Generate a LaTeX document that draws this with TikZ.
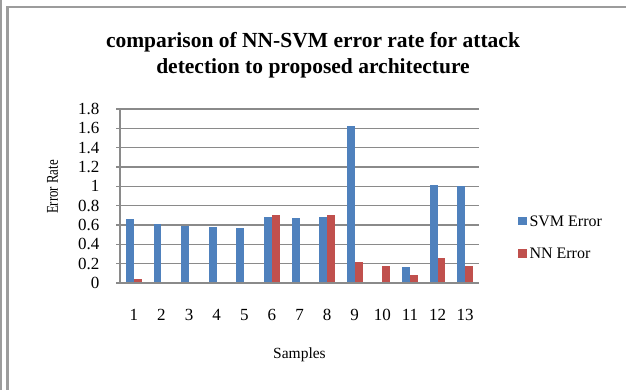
\documentclass[tikz,border=0pt]{standalone}
\usepackage{fontspec}
\setmainfont{Liberation Serif}
\definecolor{svmblue}{HTML}{4F81BD}
\definecolor{nnred}{HTML}{C0504D}
\definecolor{gridgray}{HTML}{8A8A8A}
\definecolor{framegray}{HTML}{9C9C9C}
\tikzset{
  gridline/.style={draw=gridgray, line width=1.6pt},
  frameline/.style={draw=framegray},
  ticklabel/.style={inner sep=0pt, font=\fontsize{17}{17}\selectfont},
  axistitle/.style={inner sep=0pt, font=\fontsize{15.5}{16}\selectfont},
  svmbar/.style={fill=svmblue},
  nnbar/.style={fill=nnred},
  legendtext/.style={inner sep=0pt, anchor=west, font=\fontsize{16}{16}\selectfont},
}
\begin{document}
\begin{tikzpicture}[x=1pt, y=-1pt]
  \useasboundingbox (0,0) rectangle (626,390);
  \fill[white] (0,0) rectangle (626,390);

  % outer frame: double rule on the left, single rule on top
  \draw[frameline, line width=2.3pt] (1.2,0) -- (1.2,390);
  \draw[frameline, line width=2.6pt] (7.4,390) -- (7.4,6.7);
  \draw[frameline, line width=1.8pt] (6.1,6.7) -- (626,6.7);

  % title
  \node[align=center, font=\fontsize{21.5}{26}\selectfont\bfseries] (title) at (313,55)
    {comparison of NN-SVM error rate for attack\\detection to proposed architecture};

  % horizontal gridlines with tick labels (0 to 1.8 in steps of 0.2)
  \foreach \k/\lab in {0/0,1/0.2,2/0.4,3/0.6,4/0.8,5/1,6/1.2,7/1.4,8/1.6,9/1.8} {
    \pgfmathsetmacro{\yy}{283-19.333*\k}
    \draw[gridline] (116,\yy) -- (479,\yy);
    \node[ticklabel, anchor=east] (ylab\k) at (99.5,\yy) {\lab};
  }

  % bars: sample / SVM error / NN error
  \foreach \i/\s/\n in {1/0.66/0.045, 2/0.607/0.006, 3/0.59/0.004, 4/0.58/0,
                        5/0.57/0, 6/0.68/0.70, 7/0.675/0.004, 8/0.68/0.70,
                        9/1.62/0.22, 10/0/0.18, 11/0.165/0.085, 12/1.01/0.26,
                        13/1.0/0.175} {
    \pgfmathsetmacro{\cx}{120+27.615*(\i-0.5)}
    \pgfmathsetmacro{\sy}{283-96.67*\s}
    \pgfmathsetmacro{\ny}{283-96.67*\n}
    \fill[svmbar] (\cx-7.9,283) rectangle (\cx,\sy);
    \fill[nnbar] (\cx,283) rectangle (\cx+7.9,\ny);
    \node[ticklabel] (xlab\i) at (\cx,315) {\i};
  }

  % axes drawn over the bars
  \draw[gridline] (120,108.2) -- (120,283);
  \draw[gridline] (116,283) -- (479,283);

  % axis titles
  \node[axistitle] (xtitle) at (299.5,355) {Samples};
  \node[inner sep=0pt, rotate=90, font=\fontsize{16.5}{17}\selectfont] (ytitle) at (52.5,187)
    {\scalebox{0.78}[1]{Error Rate}};

  % legend
  \fill[svmblue] (518.3,216.8) rectangle (526.8,225.2);
  \node[legendtext] (legsvm) at (529.3,221.5) {SVM Error};
  \fill[nnred] (518.3,249.4) rectangle (526.8,257.8);
  \node[legendtext] (legnn) at (529.3,253.8) {NN Error};
\end{tikzpicture}
\end{document}
